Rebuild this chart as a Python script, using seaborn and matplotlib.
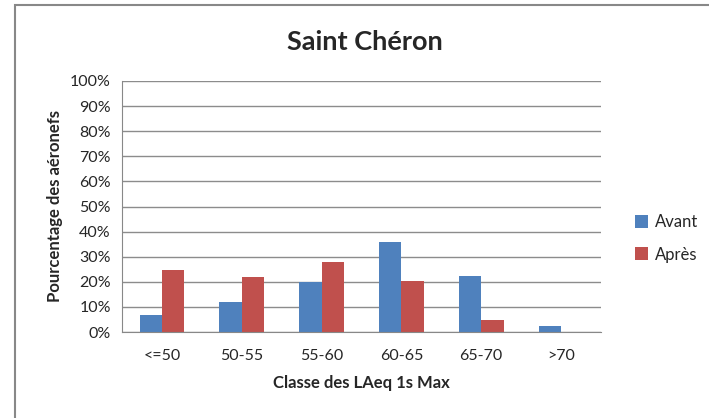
import pandas as pd
import matplotlib.pyplot as plt
import seaborn as sns
from matplotlib.patches import Rectangle
from matplotlib.ticker import PercentFormatter

classes = ['<=50', '50-55', '55-60', '60-65', '65-70', '>70']
avant = [6.6, 11.8, 20.0, 35.8, 22.5, 2.3]
apres = [24.8, 21.8, 27.7, 20.3, 4.9, 0.0]

dat = pd.DataFrame({
    'classe': classes * 2,
    'pct': avant + apres,
    'serie': ['Avant'] * len(classes) + ['Après'] * len(classes),
})

sns.set_style('white')
plt.rcParams['font.family'] = ['Lato', 'DejaVu Sans']

fig = plt.figure(figsize=(7.09, 4.18), dpi=100)
ax = fig.add_axes([122 / 709, 1 - 332 / 418, 479 / 709, 251 / 418])

# figure border like the Excel chart frame
fig.patches.append(Rectangle((15 / 709, -0.1), 1.0, 1.1 - 5 / 418,
                             transform=fig.transFigure, fill=False,
                             edgecolor='#888888', linewidth=1.5))

sns.barplot(data=dat, x='classe', y='pct', hue='serie', ax=ax,
            palette=['#4f81bd', '#c0504d'], width=0.56, saturation=1,
            edgecolor='none')

ax.set_ylim(0, 100)
ax.set_xlim(-0.5, 5.5)
ax.set_yticks(range(0, 101, 10))
ax.yaxis.set_major_formatter(PercentFormatter(decimals=0))
ax.set_xticks([i + 0.5 for i in range(-1, 6)], minor=True)
ax.tick_params(axis='x', which='major', length=0, labelsize=11.5, pad=12)
ax.tick_params(axis='x', which='minor', length=5, direction='out', color='#888888')
ax.tick_params(axis='y', length=5, direction='out', color='#888888', labelsize=11.5, pad=3)
ax.yaxis.grid(True, color='#8c8c8c', linewidth=1)
ax.set_axisbelow(True)
for s in ['top', 'right']:
    ax.spines[s].set_visible(False)
for s in ['left', 'bottom']:
    ax.spines[s].set_color('#888888')

ax.set_xlabel('Classe des LAeq 1s Max', fontsize=12, fontweight='bold', labelpad=9)
ax.set_ylabel('Pourcentage des aéronefs', fontsize=12, fontweight='bold', labelpad=5)
fig.text(0.515, 1 - 42 / 418, 'Saint Chéron', ha='center', va='center',
         fontsize=19.5, fontweight='bold')

ax.legend(loc='upper left', bbox_to_anchor=(1.04, 0.53), frameon=False,
          fontsize=12, handlelength=0.8, handleheight=0.8, labelspacing=1.0,
          handletextpad=0.4)

fig.savefig('out.png', dpi=100)
